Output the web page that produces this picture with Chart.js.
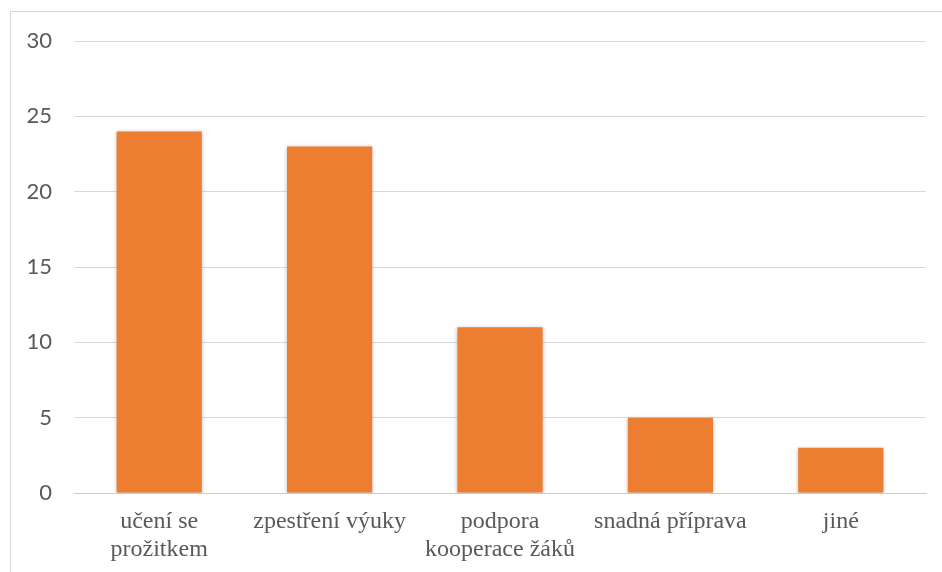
<!DOCTYPE html>
<html>
<head>
<meta charset="utf-8">
<script src="https://cdn.jsdelivr.net/npm/chart.js@4"></script>
<style>
  body { margin: 0; background: #fff; }
  #box { position: absolute; left: 10px; top: 11px; width: 940px; height: 570px; border: 1px solid #d9d9d9; }
</style>
</head>
<body>
<div id="box"><canvas id="chart" width="940" height="570"></canvas></div>
<script>
const categories = [["učení se", "prožitkem"], "zpestření výuky", ["podpora", "kooperace žáků"], "snadná příprava", "jiné"];
const counts = [24, 23, 11, 5, 3];
const yTicks = [0, 5, 10, 15, 20, 25, 30];

Chart.defaults.font.family = "'Liberation Serif', serif";

// light drop shadow under the bars, like the office export
const barShadow = {
    id: "barShadow",
    beforeDatasetsDraw(chart) {
        const ctx = chart.ctx;
        ctx.save();
        ctx.shadowColor = "rgba(0,0,0,0.28)";
        ctx.shadowBlur = 4;
        ctx.shadowOffsetX = 0;
        ctx.shadowOffsetY = 1;
    },
    afterDatasetsDraw(chart) {
        chart.ctx.restore();
    }
};

new Chart(document.getElementById("chart"), {
    type: "bar",
    data: {
        labels: categories,
        datasets: [{
            data: counts,
            backgroundColor: "#ED7D31",
            barPercentage: 0.5,
            categoryPercentage: 1
        }]
    },
    options: {
        responsive: false,
        animation: false,
        layout: { padding: { top: 29, right: 25, left: 0, bottom: 0 } },
        plugins: { legend: { display: false }, tooltip: { enabled: false } },
        scales: {
            x: {
                grid: { display: false, drawTicks: false },
                border: { display: true, color: "#cccccc", width: 1 },
                ticks: {
                    color: "#595959",
                    padding: 15,
                    maxRotation: 0,
                    font: { family: "'Liberation Serif', serif", size: 24, lineHeight: 1.15 }
                },
                afterFit(scale) { scale.height = 89; }
            },
            y: {
                min: 0,
                max: 30,
                afterBuildTicks(scale) { scale.ticks = yTicks.map(v => ({ value: v })); },
                grid: { color: "#d9d9d9", lineWidth: 1, drawTicks: true, tickLength: 20, tickColor: "rgba(0,0,0,0)" },
                border: { display: false },
                ticks: {
                    color: "#595959",
                    padding: 2,
                    font: { family: "Lato, 'Open Sans', sans-serif", size: 22 }
                },
                afterFit(scale) { scale.width = 63; }
            }
        }
    },
    plugins: [barShadow]
});
</script>
</body>
</html>
